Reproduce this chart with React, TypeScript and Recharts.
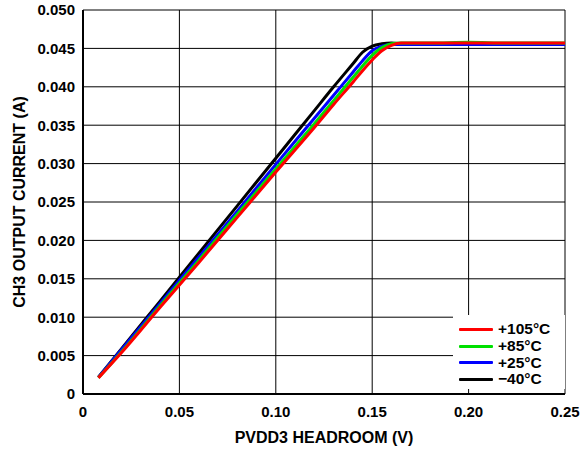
import { CartesianGrid, Legend, Line, LineChart, XAxis, YAxis } from "recharts";

// headroom (V)
const headroom = [
  0.008, 0.02, 0.04, 0.06, 0.08, 0.1, 0.12, 0.13, 0.14, 0.145, 0.15, 0.155, 0.16, 0.165, 0.17, 0.18, 0.2,
  0.22, 0.25,
];

// output current (A) per temperature
const plus105 = [
  0.0021, 0.0054, 0.0113, 0.0171, 0.023, 0.0289, 0.0347, 0.0377, 0.0406, 0.0421, 0.0435, 0.0447, 0.0454,
  0.0457, 0.0457, 0.0457, 0.0457, 0.0457, 0.0457,
];
const plus85 = [
  0.0021, 0.0055, 0.0115, 0.0174, 0.0234, 0.0293, 0.0352, 0.0382, 0.0412, 0.0427, 0.0441, 0.0451, 0.0456,
  0.0457, 0.0457, 0.0457, 0.0458, 0.0457, 0.0457,
];
const plus25 = [
  0.0022, 0.0058, 0.0118, 0.0178, 0.0238, 0.0299, 0.0359, 0.0389, 0.0419, 0.0434, 0.0447, 0.0453, 0.0455,
  0.0455, 0.0455, 0.0455, 0.0455, 0.0455, 0.0455,
];
const minus40 = [
  0.0022, 0.0059, 0.0121, 0.0183, 0.0245, 0.0307, 0.0369, 0.04, 0.043, 0.0445, 0.0453, 0.0456, 0.0457,
  0.0456, 0.0455, 0.0455, 0.0455, 0.0455, 0.0455,
];

const xTicks = [0, 0.05, 0.1, 0.15, 0.2, 0.25];
const yTicks = [0, 0.005, 0.01, 0.015, 0.02, 0.025, 0.03, 0.035, 0.04, 0.045, 0.05];

const series = [
  { key: "m40", name: "\u221240\u00b0C", color: "#000000" },
  { key: "p25", name: "+25\u00b0C", color: "#0000ff" },
  { key: "p85", name: "+85\u00b0C", color: "#00e000" },
  { key: "p105", name: "+105\u00b0C", color: "#ff0000" },
];
const legendOrder = ["p105", "p85", "p25", "m40"];

const rows = headroom.map((x, i) => ({
  x,
  p105: plus105[i],
  p85: plus85[i],
  p25: plus25[i],
  m40: minus40[i],
}));

const font = '"Liberation Sans", Arial, sans-serif';
const tickStyle = { fontFamily: font, fontWeight: 700, fontSize: 15, fill: "#000" };

function LegendBox() {
  return (
    <div style={{ background: "#fff", width: 112, height: 74, paddingTop: 6, boxSizing: "border-box" }}>
      {legendOrder.map((k) => {
        const s = series.find((d) => d.key === k)!;
        return (
          <div key={k} style={{ display: "flex", alignItems: "center", height: 16.7 }}>
            <div style={{ marginLeft: 6, width: 34, height: 3, background: s.color, borderRadius: 1 }} />
            <span
              style={{ marginLeft: 5, fontFamily: font, fontWeight: 700, fontSize: 15.5, lineHeight: "16px" }}
            >
              {s.name}
            </span>
          </div>
        );
      })}
    </div>
  );
}

export default function App() {
  return (
    <div style={{ position: "absolute", left: 0, top: 0 }}>
      <LineChart width={588} height={450} data={rows} margin={{ top: 10, right: 23, bottom: 0, left: 0 }}>
        <CartesianGrid stroke="#000" strokeWidth={1} />
        <XAxis
          dataKey="x"
          type="number"
          domain={[0, 0.25]}
          ticks={xTicks}
          tickFormatter={(v: number) => (v === 0 ? "0" : v.toFixed(2))}
          tick={tickStyle}
          tickLine={false}
          tickMargin={6}
          axisLine={{ stroke: "#000", strokeWidth: 2 }}
          height={56}
          label={{
            value: "PVDD3 HEADROOM (V)",
            position: "insideBottom",
            offset: 7,
            style: { fontFamily: font, fontWeight: 700, fontSize: 16, fill: "#000" },
          }}
        />
        <XAxis xAxisId="top" orientation="top" type="number" domain={[0, 0.25]} ticks={xTicks} tick={false} tickLine={false} height={0} axisLine={{ stroke: "#000", strokeWidth: 2 }} />
        <YAxis
          type="number"
          domain={[0, 0.05]}
          ticks={yTicks}
          tickFormatter={(v: number) => (v === 0 ? "0" : v.toFixed(3))}
          tick={tickStyle}
          tickLine={false}
          axisLine={{ stroke: "#000", strokeWidth: 2 }}
          width={83}
          label={{
            value: "CH3 OUTPUT CURRENT (A)",
            angle: -90,
            position: "insideLeft",
            offset: 19,
            dy: 0,
            style: { textAnchor: "middle", fontFamily: font, fontWeight: 700, fontSize: 16, fill: "#000" },
          }}
        />
        <YAxis yAxisId="right" orientation="right" type="number" domain={[0, 0.05]} ticks={yTicks} tick={false} tickLine={false} width={0} axisLine={{ stroke: "#000", strokeWidth: 2 }} />
        {series.map((s) => (
          <Line
            key={s.key}
            dataKey={s.key}
            name={s.name}
            type="monotone"
            stroke={s.color}
            strokeWidth={3}
            dot={false}
            isAnimationActive={false}
          />
        ))}
        <Legend
          layout="vertical"
          align="center"
          verticalAlign="middle"
          content={() => <LegendBox />}
          wrapperStyle={{ position: "absolute", left: 453, top: 315, width: 112, height: 74 }}
        />
      </LineChart>
    </div>
  );
}
